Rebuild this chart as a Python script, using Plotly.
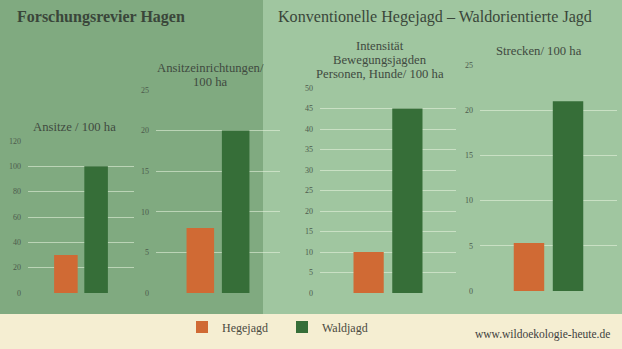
import plotly.graph_objects as go

W, H = 622, 349

# ---- data ----
panel_titles = [["Ansitze / 100 ha"],
                ["Ansitzeinrichtungen/", "100 ha"],
                ["Intensität", "Bewegungsjagden", "Personen, Hunde/ 100 ha"],
                ["Strecken/ 100 ha"]]
series_names = ["Hegejagd", "Waldjagd"]
hegejagd = [30, 8, 10, 5.3]
waldjagd = [100, 20, 45, 21]
y_max = [120, 25, 50, 25]
y_step = [20, 5, 5, 5]

# ---- layout geometry (pixels) ----
x_dom_px = [(28, 134), (156, 280), (320, 456), (480, 617)]
y_dom_px = [(141, 293), (90, 293), (88, 293), (65, 291)]
title_pos = [(74, 127), (210, 68), (380, 46), (539, 51)]
LINE_STEP = 14

ORANGE = "#d06a34"
GREEN = "#366e38"
FONT = "Liberation Serif"
TXT = "#3d4a3d"

fig = go.Figure()
colors = [ORANGE, GREEN]
for i in range(4):
    xa = "x" if i == 0 else f"x{i+1}"
    ya = "y" if i == 0 else f"y{i+1}"
    for s, (name, vals) in enumerate(zip(series_names, [hegejagd, waldjagd])):
        fig.add_trace(go.Bar(
            x=["c"], y=[vals[i]], name=name, marker_color=colors[s],
            marker_line_width=0, xaxis=xa, yaxis=ya,
            showlegend=(i == 0), legendgroup=name))

layout = dict(
    width=W, height=H, margin=dict(l=0, r=0, t=0, b=0, pad=0, autoexpand=False),
    paper_bgcolor="#f5eed2", plot_bgcolor="rgba(0,0,0,0)",
    barmode="group", bargap=0.43, bargroupgap=0.22,
    font=dict(family=FONT, color=TXT),
    showlegend=True,
    legend=dict(orientation="h", x=182 / W, y=1 - 327 / H, xanchor="left", yanchor="middle",
                bgcolor="rgba(0,0,0,0)", font=dict(size=12, color="#4a4a40", family=FONT),
                entrywidth=55, entrywidthmode="pixels", itemwidth=30),
)
for i in range(4):
    xk = "xaxis" if i == 0 else f"xaxis{i+1}"
    yk = "yaxis" if i == 0 else f"yaxis{i+1}"
    x0, x1 = x_dom_px[i]
    yt, yb = y_dom_px[i]
    layout[xk] = dict(domain=[x0 / W, x1 / W], showticklabels=False, showgrid=False,
                      zeroline=False, showline=False, fixedrange=True, automargin=False,
                      anchor="y" if i == 0 else f"y{i+1}")
    layout[yk] = dict(domain=[1 - yb / H, 1 - yt / H], range=[0, y_max[i]], dtick=y_step[i],
                      tick0=0, showgrid=True, gridcolor="rgba(235,245,225,0.55)", gridwidth=1.3,
                      zeroline=False, showline=False, ticks="", automargin=False,
                      tickfont=dict(size=8, color="#4d5a4d", family=FONT),
                      ticklabelstandoff=6,
                      anchor="x" if i == 0 else f"x{i+1}")
fig.update_layout(**layout)

shapes = [
    dict(type="rect", xref="paper", yref="paper", x0=0, x1=263 / W, y0=1 - 314 / H, y1=1,
         fillcolor="#80aa80", line_width=0, layer="below"),
    dict(type="rect", xref="paper", yref="paper", x0=263 / W, x1=1, y0=1 - 314 / H, y1=1,
         fillcolor="#a0c6a0", line_width=0, layer="below"),
]
fig.update_layout(shapes=shapes)

ann = [
    dict(text="<b>Forschungsrevier Hagen</b>", x=15 / W, y=1 - 17 / H, xanchor="left",
         yanchor="middle", font=dict(size=16, color="#3a463a", family=FONT)),
    dict(text="Konventionelle Hegejagd – Waldorientierte Jagd", x=276 / W, y=1 - 17 / H,
         xanchor="left", yanchor="middle", font=dict(size=16.1, color="#3a463a", family=FONT)),
    dict(text="www.wildoekologie-heute.de", x=612 / W, y=1 - 334 / H, xanchor="right",
         yanchor="middle", font=dict(size=11.5, color="#404040", family=FONT)),
]
for i, lines in enumerate(panel_titles):
    cx, cy = title_pos[i]
    for k, line in enumerate(lines):
        ann.append(dict(text=line, x=cx / W, y=1 - (cy + k * LINE_STEP) / H,
                        xanchor="center", yanchor="middle",
                        font=dict(size=12.7, color="#404a40", family=FONT)))
for a in ann:
    a.update(xref="paper", yref="paper", showarrow=False)
fig.update_layout(annotations=ann)

fig.write_html("out.html")
